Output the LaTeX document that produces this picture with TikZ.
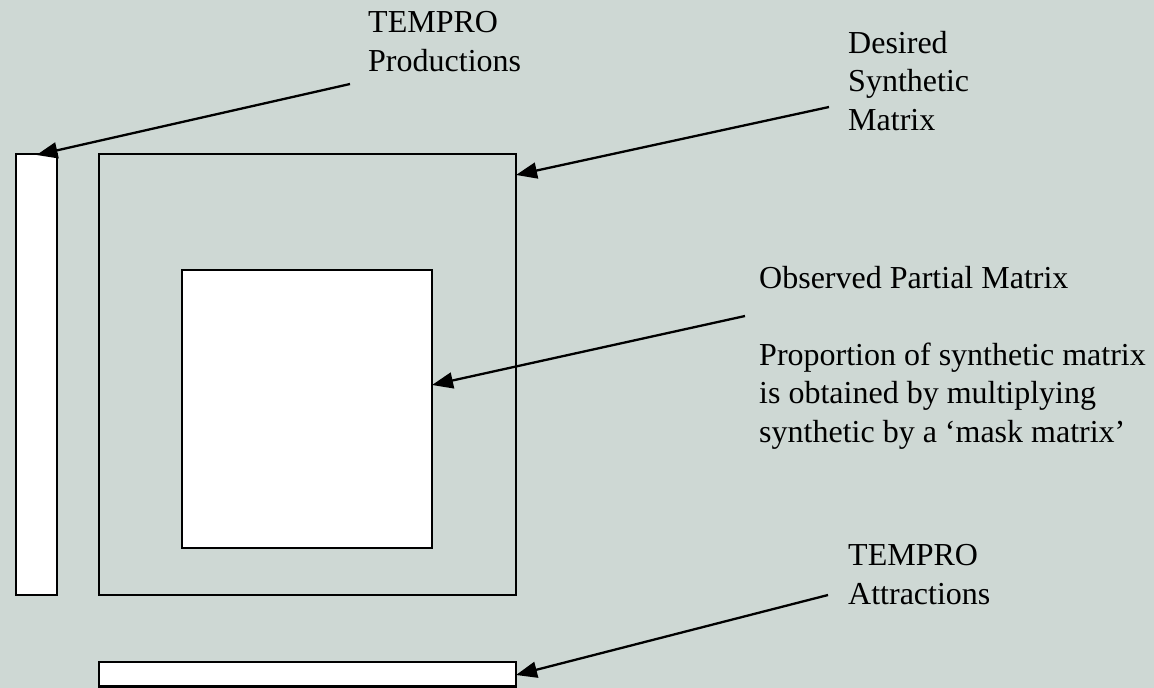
\documentclass[tikz,border=0pt]{standalone}
\usepackage{fontspec}
\setmainfont{Liberation Serif}
\usetikzlibrary{arrows.meta}
\definecolor{bg}{RGB}{206,216,212}
\tikzset{
  box/.style={draw=black, line width=2.3pt, inner sep=0pt, outer sep=0pt, anchor=north west},
  whitebox/.style={box, fill=white},
  greybox/.style={box, fill=bg},
  lbl/.style={anchor=base west, inner sep=0pt, align=left, font=\fontsize{32}{38.5}\selectfont},
  pointer/.style={line width=2.3pt, -{Triangle[length=21pt,width=16pt]}}
}
\begin{document}
\begin{tikzpicture}[x=1pt,y=-1pt]
\fill[bg] (0,0) rectangle (1154,688);
\useasboundingbox (0,0) rectangle (1154,688);
% boxes
\node[whitebox, minimum width=41pt, minimum height=441pt] (prod) at (16,154) {};
\node[greybox, minimum width=417pt, minimum height=441pt] (synth) at (99,154) {};
\node[whitebox, minimum width=250pt, minimum height=278pt] (obs) at (182,270) {};
\node[whitebox, minimum width=417pt, minimum height=24.5pt] (attr) at (99,662) {};
% labels (anchored at the baseline of their last line)
\node[lbl] (tprod) at (368,71) {TEMPRO\\Productions};
\node[lbl] (tsynth) at (848,130) {Desired\\Synthetic\\Matrix};
\node[lbl] (tobs) at (759,442) {Observed Partial Matrix\\[38.5pt]Proportion of synthetic matrix\\is obtained by multiplying\\synthetic by a ‘mask matrix’};
\node[lbl] (tattr) at (848,604) {TEMPRO\\Attractions};
% arrow start points
\coordinate (sprod) at (350,84);
\coordinate (ssynth) at (829,107);
\coordinate (sobs) at (745,316);
\coordinate (sattr) at (828,595);
% arrows
\draw[pointer] (sprod) -- (prod.north |- 0,155);
\draw[pointer] (ssynth) -- (synth.east |- 0,175);
\draw[pointer] (sobs) -- (obs.east |- 0,385);
\draw[pointer] (sattr) -- (attr.east |- 0,675);
\end{tikzpicture}
\end{document}
